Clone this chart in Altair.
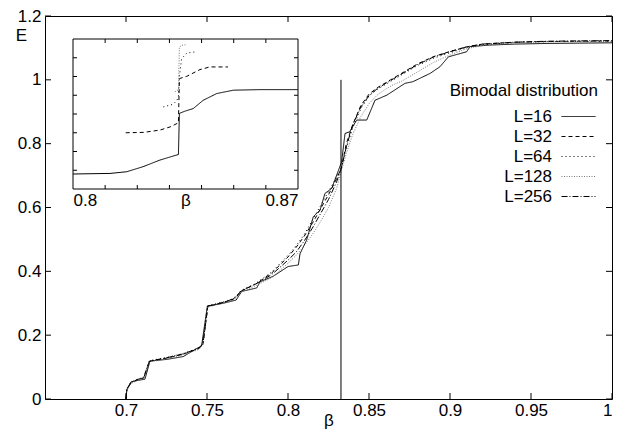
import altair as alt
import pandas as pd

# ---------------- main plot data ----------------
series = ["L=16", "L=32", "L=64", "L=128", "L=256"]

L16_beta = [0.7000, 0.7005, 0.7031, 0.7070, 0.7117, 0.7148, 0.7251, 0.7354, 0.7426, 0.7467,
            0.7502, 0.7600, 0.7680, 0.7714, 0.7807, 0.7827, 0.7910, 0.8000, 0.8064, 0.8074,
            0.8115, 0.8156, 0.8198, 0.8228, 0.8270, 0.8331, 0.8352, 0.8380, 0.8424, 0.8486,
            0.8537, 0.8610, 0.8722, 0.8770, 0.8877, 0.8938, 0.8990, 0.9103, 0.9123, 0.9247,
            0.9400, 0.9600, 0.9800, 1.0000]
L16_E = [0.000, 0.028, 0.054, 0.058, 0.062, 0.119, 0.124, 0.133, 0.155, 0.167,
         0.291, 0.300, 0.310, 0.337, 0.348, 0.367, 0.385, 0.415, 0.420, 0.455,
         0.498, 0.571, 0.592, 0.644, 0.660, 0.743, 0.832, 0.837, 0.874, 0.874,
         0.936, 0.952, 0.989, 0.994, 1.020, 1.041, 1.072, 1.088, 1.104, 1.109,
         1.112, 1.114, 1.115, 1.116]

low_beta = [0.7000, 0.7005, 0.7030, 0.7070, 0.7110, 0.7125, 0.7145, 0.7250, 0.7350, 0.7450,
            0.7475, 0.7505, 0.7600, 0.7660, 0.7685, 0.7710, 0.7800]
high_beta = [0.790, 0.800, 0.805, 0.810, 0.815, 0.820, 0.825, 0.830, 0.833, 0.836,
             0.840, 0.845, 0.850, 0.855, 0.860, 0.865, 0.870, 0.880, 0.890, 0.900,
             0.910, 0.920, 0.940, 0.960, 0.980, 1.000]

L32_low = [0, 0.030, 0.050, 0.060, 0.066, 0.090, 0.118, 0.128, 0.140, 0.158, 0.172, 0.290, 0.302, 0.312, 0.322, 0.338, 0.360]
L64_low = [0, 0.032, 0.052, 0.062, 0.068, 0.092, 0.120, 0.130, 0.142, 0.160, 0.175, 0.292, 0.304, 0.314, 0.325, 0.340, 0.362]
L128_low = [0, 0.028, 0.048, 0.058, 0.064, 0.088, 0.116, 0.126, 0.138, 0.155, 0.170, 0.288, 0.300, 0.310, 0.320, 0.335, 0.355]
L256_low = [0, 0.031, 0.051, 0.061, 0.067, 0.091, 0.119, 0.129, 0.141, 0.159, 0.173, 0.291, 0.303, 0.313, 0.323, 0.339, 0.360]

L32_high = [0.395, 0.445, 0.475, 0.510, 0.550, 0.595, 0.640, 0.690, 0.725, 0.800, 0.860, 0.920, 0.955,
            0.975, 0.990, 1.005, 1.020, 1.050, 1.073, 1.089, 1.103, 1.112, 1.118, 1.120, 1.121, 1.122]
L64_high = [0.398, 0.450, 0.480, 0.515, 0.560, 0.605, 0.650, 0.695, 0.725, 0.785, 0.850, 0.910, 0.950,
            0.970, 0.985, 1.000, 1.015, 1.045, 1.068, 1.085, 1.100, 1.110, 1.117, 1.120, 1.121, 1.121]
L128_high = [0.380, 0.425, 0.450, 0.480, 0.515, 0.555, 0.600, 0.660, 0.715, 0.770, 0.830, 0.885, 0.925,
             0.952, 0.970, 0.985, 0.995, 1.025, 1.055, 1.078, 1.097, 1.108, 1.116, 1.119, 1.120, 1.120]
L256_high = [0.390, 0.435, 0.460, 0.495, 0.535, 0.580, 0.625, 0.680, 0.725, 0.790, 0.860, 0.915, 0.950,
             0.972, 0.988, 1.003, 1.018, 1.048, 1.072, 1.088, 1.103, 1.112, 1.118, 1.121, 1.122, 1.123]

beta_c = [0.8327]
rule_E = [0.0, 1.0]

x_domain = [0.65, 1.0]
y_domain = [0.0, 1.2]
x_ticks = [0.7, 0.75, 0.8, 0.85, 0.9, 0.95, 1.0]
y_ticks = [0, 0.2, 0.4, 0.6, 0.8, 1.0, 1.2]

# ---------------- inset data ----------------
in16_beta = [0.8000, 0.8115, 0.8167, 0.8218, 0.8270, 0.8312, 0.8328, 0.8331, 0.8348, 0.8374, 0.8405, 0.8447, 0.8499, 0.8582, 0.8700]
in16_Y = [0.080, 0.083, 0.092, 0.119, 0.154, 0.176, 0.184, 0.403, 0.415, 0.429, 0.473, 0.509, 0.527, 0.530, 0.530]
in32_beta = [0.8164, 0.8220, 0.8270, 0.8302, 0.8328, 0.8331, 0.8354, 0.8395, 0.8426, 0.8482]
in32_Y = [0.300, 0.302, 0.314, 0.331, 0.353, 0.589, 0.601, 0.637, 0.651, 0.651]
in64_beta = [0.8281, 0.8312, 0.8323, 0.8328, 0.8331, 0.8338, 0.8354, 0.8385]
in64_Y = [0.438, 0.452, 0.473, 0.490, 0.600, 0.695, 0.725, 0.732]
in128_beta = [0.8317, 0.8328, 0.8331, 0.8338, 0.8352]
in128_Y = [0.518, 0.530, 0.757, 0.766, 0.770]

in_x_domain = [0.80, 0.87]
in_y_domain = [0.0, 0.8]
in_x_labels = [0.80, 0.87]
in_x_ticks = [0.81, 0.82, 0.83, 0.84, 0.85, 0.86]
in_y_ticks = [0.1, 0.2, 0.3, 0.4, 0.5, 0.6, 0.7]

# ---------------- build tables ----------------
rows = []
def add(name, bs, es):
    for i, (b, e) in enumerate(zip(bs, es)):
        rows.append({"series": name, "beta": b, "E": e, "idx": i})

add("L=16", L16_beta, L16_E)
add("L=32", low_beta + high_beta, L32_low + L32_high)
add("L=64", low_beta + high_beta, L64_low + L64_high)
add("L=128", low_beta + high_beta, L128_low + L128_high)
add("L=256", low_beta + high_beta, L256_low + L256_high)
main_df = pd.DataFrame(rows)

irows = []
def iadd(name, bs, ys):
    for i, (b, y) in enumerate(zip(bs, ys)):
        irows.append({"series": name, "beta": b, "Y": y, "idx": i})

iadd("L=16", in16_beta, in16_Y)
iadd("L=32", in32_beta, in32_Y)
iadd("L=64", in64_beta, in64_Y)
iadd("L=128", in128_beta, in128_Y)
inset_df = pd.DataFrame(irows)

rule_df = pd.DataFrame({"beta": beta_c, "E0": [rule_E[0]], "E1": [rule_E[1]]})
frame_df = pd.DataFrame({"x0": [in_x_domain[0]], "x1": [in_x_domain[1]],
                         "y0": [in_y_domain[0]], "y1": [in_y_domain[1]]})

# ---------------- layout constants ----------------
W, H = 567, 383
FONT = "Liberation Sans"
FS = 17
TICK = 6
ITICK = 4
# inset box in plot coordinates
IX0, IX1, IY0, IY1 = 28, 253, 23, 173

color_range = ["black", "black", "black", "#7a7a7a", "black"]
dash_range = [[1, 0], [4, 3], [1, 3], [1, 1.5], [6, 2, 1, 2]]

legend = alt.Legend(
    title="Bimodal distribution", orient="none", legendX=405, legendY=67,
    direction="vertical", padding=0,
    symbolType="M-1.7,0H1.7", symbolSize=400, symbolStrokeWidth=1,
    labelAlign="right", labelOffset={"expr": "-37"}, labelFont=FONT, labelFontSize=FS,
    labelColor="black", titleFont=FONT, titleFontSize=FS, titleFontWeight="normal",
    titleColor="black", titleAnchor="end", titleAlign="right", titlePadding=6,
    rowPadding=1,
)

color_enc = alt.Color("series:N", scale=alt.Scale(domain=series, range=color_range), legend=legend)
dash_enc = alt.StrokeDash("series:N", scale=alt.Scale(domain=series, range=dash_range), legend=legend)

x_main = alt.Scale(domain=x_domain, nice=False, zero=False)
y_main = alt.Scale(domain=y_domain, nice=False, zero=False)
x_in = alt.Scale(domain=in_x_domain, range=[IX0, IX1], nice=False, zero=False)
y_in = alt.Scale(domain=in_y_domain, range=[IY1, IY0], nice=False, zero=False)


def edge_ticks(values, edge, horizontal, xs, ys, delta):
    """Inward tick rules: from the frame edge, at each tick value, 'delta' data units inward."""
    df = pd.DataFrame({"v": values, "edge": [edge] * len(values)})
    base = alt.Chart(df).transform_calculate(
        edge2=f"datum.edge + ({delta})"
    ).mark_rule(color="black", strokeWidth=1)
    if horizontal:
        return base.encode(x=alt.X("edge:Q", scale=xs, axis=None), x2="edge2:Q",
                           y=alt.Y("v:Q", scale=ys, axis=None))
    return base.encode(x=alt.X("v:Q", scale=xs, axis=None),
                       y=alt.Y("edge:Q", scale=ys, axis=None), y2="edge2:Q")


# tick length converted from pixels to data units of each scale
dx_main = TICK * (x_domain[1] - x_domain[0]) / W
dy_main = TICK * (y_domain[1] - y_domain[0]) / H
dx_in = ITICK * (in_x_domain[1] - in_x_domain[0]) / (IX1 - IX0)
dy_in = ITICK * (in_y_domain[1] - in_y_domain[0]) / (IY1 - IY0)

lines = alt.Chart(main_df).mark_line(strokeWidth=1).encode(
    x=alt.X("beta:Q", scale=x_main,
            axis=alt.Axis(title="β", values=x_ticks, format="~g", ticks=False, domain=False,
                          grid=False, labelPadding=3, titleY=26, titleBaseline="alphabetic")),
    y=alt.Y("E:Q", scale=y_main,
            axis=alt.Axis(title="E", values=y_ticks, format="~g", ticks=False, domain=False,
                          grid=False, labelPadding=4, titleAngle=0, titleX=-24, titleY=19,
                          titleAlign="center", titleBaseline="middle")),
    color=color_enc,
    strokeDash=dash_enc,
    order="idx:Q",
)

rule = alt.Chart(rule_df).mark_rule(color="black", strokeWidth=1).encode(
    x=alt.X("beta:Q", scale=x_main, axis=None),
    y=alt.Y("E0:Q", scale=y_main, axis=None),
    y2="E1:Q",
)

frame = alt.Chart(frame_df).mark_rect(fill="white", stroke="black", strokeWidth=1).encode(
    x=alt.X("x0:Q", scale=x_in,
            axis=alt.Axis(orient="bottom", offset=IY1 - H, values=in_x_labels, format="~g",
                          ticks=False, domain=False, grid=False, labelPadding=3,
                          title="β", titleY=3, titleBaseline="top", zindex=1)),
    x2="x1:Q",
    y=alt.Y("y0:Q", scale=y_in, axis=None),
    y2="y1:Q",
)

inset_lines = alt.Chart(inset_df).mark_line(strokeWidth=1).encode(
    x=alt.X("beta:Q", scale=x_in, axis=None),
    y=alt.Y("Y:Q", scale=y_in, axis=None),
    color=color_enc,
    strokeDash=dash_enc,
    order="idx:Q",
)

chart = alt.layer(
    lines, rule,
    edge_ticks(x_ticks, y_domain[0], False, x_main, y_main, dy_main),
    edge_ticks(x_ticks, y_domain[1], False, x_main, y_main, -dy_main),
    edge_ticks(y_ticks, x_domain[0], True, x_main, y_main, dx_main),
    edge_ticks(y_ticks, x_domain[1], True, x_main, y_main, -dx_main),
    frame, inset_lines,
    edge_ticks(in_x_ticks, in_y_domain[0], False, x_in, y_in, dy_in),
    edge_ticks(in_x_ticks, in_y_domain[1], False, x_in, y_in, -dy_in),
    edge_ticks(in_y_ticks, in_x_domain[0], True, x_in, y_in, dx_in),
    edge_ticks(in_y_ticks, in_x_domain[1], True, x_in, y_in, -dx_in),
).resolve_scale(x="independent", y="independent").properties(
    width=W, height=H,
    autosize=alt.AutoSizeParams(type="none"),
    padding={"left": 45, "top": 16, "right": 9, "bottom": 31},
    background="white",
).configure_view(
    stroke="black", strokeWidth=1
).configure_axis(
    labelFont=FONT, labelFontSize=FS, labelColor="black",
    titleFont=FONT, titleFontSize=FS, titleFontWeight="normal", titleColor="black",
)

chart.save("out.html", embed_options={"renderer": "svg", "actions": False})
